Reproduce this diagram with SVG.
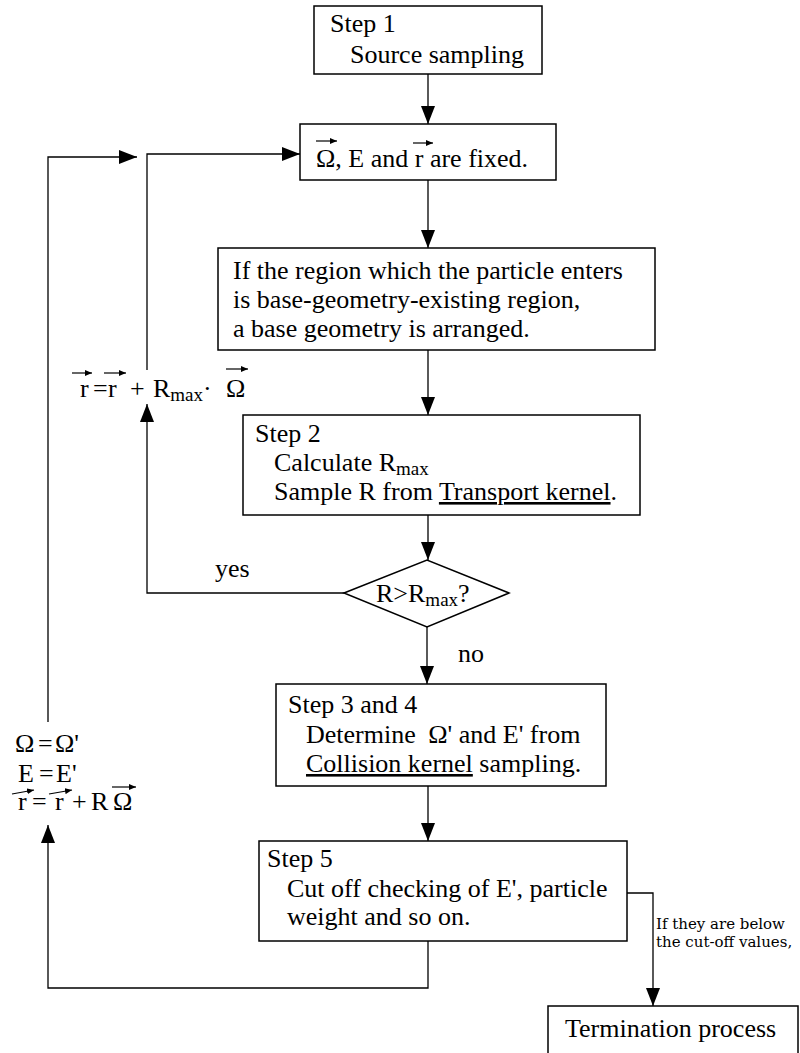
<svg xmlns="http://www.w3.org/2000/svg" width="800" height="1053" viewBox="0 0 800 1053">
<style>
.box{fill:#fff;stroke:#000;stroke-width:1.5}
.t{font-family:'Liberation Serif',Tinos,'DejaVu Serif',serif;font-size:26px;fill:#000}
.sub{font-size:19px}
.conn{fill:none;stroke:#000;stroke-width:1.3}
.lbl{font-family:'DejaVu Serif',serif;font-size:15px;fill:#000}
.vec{fill:none;stroke:#000;stroke-width:1.2}
</style>
<defs>
<marker id="ah" markerUnits="userSpaceOnUse" markerWidth="18" markerHeight="14" refX="18" refY="7" orient="auto"><path d="M0,0 L18,7 L0,14 z" fill="#000"/></marker>
<marker id="vh" markerUnits="userSpaceOnUse" markerWidth="7" markerHeight="6" refX="7" refY="3" orient="auto"><path d="M0,0 L7,3 L0,6 z" fill="#000"/></marker>
</defs>
<rect width="800" height="1053" fill="#fff"/>
<g id="connectors">
<path class="conn" d="M428,74 V124" marker-end="url(#ah)"/>
<path class="conn" d="M428,180 V248" marker-end="url(#ah)"/>
<path class="conn" d="M428,350 V415" marker-end="url(#ah)"/>
<path class="conn" d="M428,515 V560" marker-end="url(#ah)"/>
<path class="conn" d="M427,627 V684" marker-end="url(#ah)"/>
<path class="conn" d="M428,786 V841" marker-end="url(#ah)"/>
<path class="conn" d="M344,593 H147 V404" marker-end="url(#ah)"/>
<path class="conn" d="M147,370 V154 H300" marker-end="url(#ah)"/>
<path class="conn" d="M428,941 V988 H48 V825" marker-end="url(#ah)"/>
<path class="conn" d="M48,722 V157 H137" marker-end="url(#ah)"/>
<path class="conn" d="M627,893 H653 V1006" marker-end="url(#ah)"/>
</g>
<g id="step1">
<rect class="box" x="314" y="6" width="228" height="68"/>
<text class="t" x="330" y="32">Step 1</text>
<text class="t" x="350" y="63">Source sampling</text>
</g>
<g id="fixed">
<rect class="box" x="300" y="124" width="256" height="56"/>
<text class="t" x="316" y="167">Ω, E and r are fixed.</text>
<path class="vec" d="M316,141 H337" marker-end="url(#vh)"/>
<path class="vec" d="M413,143 H433" marker-end="url(#vh)"/>
</g>
<g id="region">
<rect class="box" x="218" y="248" width="437" height="102"/>
<text class="t" x="233" y="279">If the region which the particle enters</text>
<text class="t" x="233" y="308">is base-geometry-existing region,</text>
<text class="t" x="233" y="337">a base geometry is arranged.</text>
</g>
<g id="step2">
<rect class="box" x="243" y="415" width="397" height="100"/>
<text class="t" x="255" y="442">Step 2</text>
<text class="t" x="274" y="471">Calculate R<tspan class="sub" dy="4">max</tspan></text>
<text class="t" x="274" y="500">Sample R from <tspan text-decoration="underline">Transport kernel</tspan>.</text>
</g>
<g id="decision">
<polygon class="box" points="344,593 427,560 509,593 427,627"/>
<text class="t" x="376" y="602">R&gt;R<tspan class="sub" dy="4">max</tspan><tspan dy="-4">?</tspan></text>
</g>
<g id="yes-label"><text class="t" x="215" y="577">yes</text></g>
<g id="no-label"><text class="t" x="458" y="662">no</text></g>
<g id="update1">
<text class="t" x="80" y="397">r<tspan x="93">=</tspan><tspan x="108">r</tspan><tspan x="130">+</tspan><tspan x="153">R</tspan><tspan class="sub" dy="4">max</tspan><tspan dy="-4">·</tspan><tspan x="226">Ω</tspan></text>
<path class="vec" d="M72,373 H92" marker-end="url(#vh)"/>
<path class="vec" d="M104,373 H126" marker-end="url(#vh)"/>
<path class="vec" d="M226,369 H248" marker-end="url(#vh)"/>
</g>
<g id="step34">
<rect class="box" x="276" y="684" width="330" height="102"/>
<text class="t" x="288" y="713">Step 3 and 4</text>
<text class="t" x="306" y="743">Determine <tspan dx="6">Ω'</tspan> and E' from</text>
<text class="t" x="306" y="772"><tspan text-decoration="underline">Collision kernel</tspan> sampling.</text>
</g>
<g id="update2">
<text class="t" x="15" y="752">Ω<tspan x="38">=</tspan><tspan x="55">Ω'</tspan></text>
<text class="t" x="18" y="782">E<tspan x="39">=</tspan><tspan x="56">E'</tspan></text>
<text class="t" x="18" y="810">r<tspan x="32">=</tspan><tspan x="55">r</tspan><tspan x="72">+</tspan><tspan x="91">R</tspan><tspan x="113">Ω</tspan></text>
<path class="vec" d="M12,794 L34,790" marker-end="url(#vh)"/>
<path class="vec" d="M49,794 L72,790" marker-end="url(#vh)"/>
<path class="vec" d="M112,787 H136" marker-end="url(#vh)"/>
</g>
<g id="step5">
<rect class="box" x="259" y="841" width="368" height="100"/>
<text class="t" x="267" y="867">Step 5</text>
<text class="t" x="287" y="897">Cut off checking of E', particle</text>
<text class="t" x="287" y="925">weight and so on.</text>
</g>
<g id="cutoff-label">
<text class="lbl" x="656" y="929">If they are below</text>
<text class="lbl" x="656" y="947">the cut-off values,</text>
</g>
<g id="termination">
<rect class="box" x="548" y="1006" width="250" height="60"/>
<text class="t" x="565" y="1037">Termination process</text>
</g>
</svg>
